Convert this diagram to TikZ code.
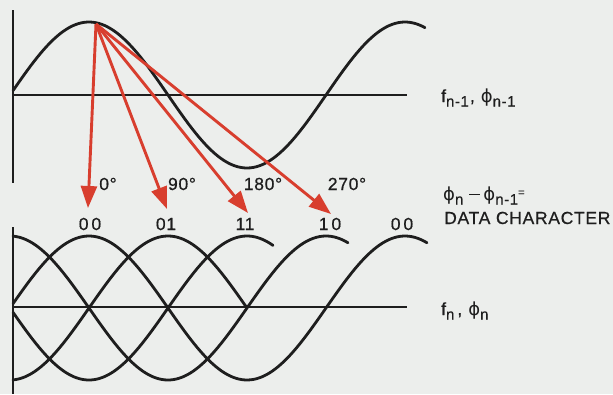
\documentclass[tikz,border=0pt]{standalone}
\usepackage{fontspec}
\setmainfont{Liberation Sans}[LetterSpace=4,FakeBold=0.6]
\newfontfamily\phifont{DejaVu Sans}
\usetikzlibrary{arrows.meta}
\definecolor{bg}{RGB}{236,238,236}
\definecolor{arrred}{RGB}{216,62,46}
\definecolor{ink}{RGB}{30,30,30}
\newcommand\lsub[1]{\raisebox{-4.5pt}{\fontsize{15}{16}\selectfont #1}}
\newcommand\phisym{{\phifont\fontsize{18}{20}\selectfont ϕ}}
\begin{document}
\begin{tikzpicture}[x=1pt,y=-1pt,
  wave/.style={line width=2.8pt, ink, line cap=round},
  vaxis/.style={line width=1.8pt, ink},
  haxis/.style={line width=1.3pt, ink},
  redarrow/.style={arrred, line width=2.9pt, -{Triangle[length=22pt,width=16pt]}},
  lbl/.style={font=\fontsize{17.5}{19}\selectfont, inner sep=0pt, text=ink},
]
\fill[bg] (0,0) rectangle (613,394);
\useasboundingbox (0,0) rectangle (613,394);

% top graph
\draw[vaxis] (13,10) -- (13,183);
\draw[haxis] (13,95) -- (407,95);
\draw[wave] plot[domain=13:425, samples=140] (\x, {95-73*sin((\x-10)/316*360)});

% bottom graph
\draw[vaxis] (13,227) -- (13,394);
\draw[haxis] (13,307) -- (407,307);
\draw[wave] plot[domain=13:427, samples=140] (\x, {308-72*sin((\x-10)/316*360)});
\draw[wave] plot[domain=13:247, samples=100] (\x, {308-72*sin((\x-89)/316*360)});
\draw[wave] plot[domain=13:273, samples=100] (\x, {308-72*sin((\x-168)/316*360)});
\draw[wave] plot[domain=13:348, samples=120] (\x, {308-72*sin((\x-247)/316*360)});

% arrows
\coordinate (src) at (96,24);
\coordinate (t0) at (88,208);
\coordinate (t1) at (167,209);
\coordinate (t2) at (248,213);
\coordinate (t3) at (331,214);
\draw[redarrow] (src) -- (t0);
\draw[redarrow] (src) -- (t1);
\draw[redarrow] (src) -- (t2);
\draw[redarrow] (src) -- (t3);

% phase labels
\node[lbl] (p0) at (108,184) {0°};
\node[lbl] (p1) at (182,184) {90°};
\node[lbl] (p2) at (263,184) {180°};
\node[lbl] (p3) at (347,184) {270°};

% bit labels
\node[lbl] (b0) at (90,224) {0\,0};
\node[lbl] (b1) at (166,224) {01};
\node[lbl] (b2) at (245,224) {11};
\node[lbl] (b3) at (330,224) {1\,0};
\node[lbl] (b4) at (402,224) {0\,0};

% right labels
\node[lbl, anchor=base west] (l1) at (441,102) {f\lsub{n-1}\hspace{1pt},\hspace{6pt}\phisym\lsub{n-1}};
\node[lbl, anchor=base west] (l2) at (443,200) {\phisym\lsub{n}\hspace{6pt}\rule[5pt]{11pt}{1.5pt}\hspace{3pt}\phisym\lsub{n-1}\raisebox{4pt}{\fontsize{11}{12}\selectfont =}};
\node[lbl, anchor=base west] (l3) at (444,224) {DATA CHARACTER};
\node[lbl, anchor=base west] (l4) at (441,315) {f\lsub{n}\hspace{3pt},\hspace{6pt}\phisym\lsub{n}};
\end{tikzpicture}
\end{document}
